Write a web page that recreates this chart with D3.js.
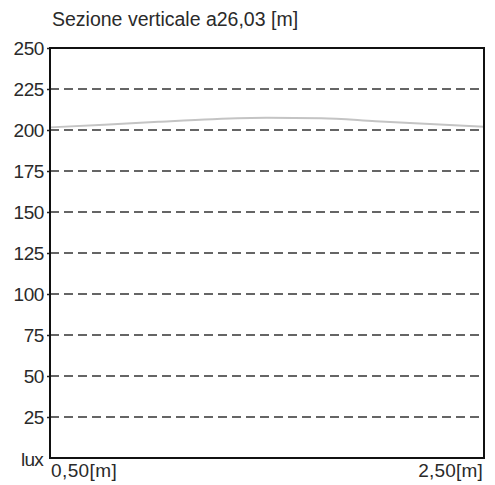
<!DOCTYPE html>
<html>
<head>
<meta charset="utf-8">
<script src="https://cdn.jsdelivr.net/npm/d3@7"></script>
<style>
  body { margin: 0; background: #fff; }
  text { font-family: "Liberation Sans", Arial, sans-serif; fill: #2a2a2a; }
</style>
</head>
<body>
<div id="chart"></div>
<script>
// sampled positions along the section (m) and illuminance (lux)
var positions = [0.5, 0.75, 1.0, 1.25, 1.5, 1.75, 2.0, 2.25, 2.5];
var luxValues = [201.6, 203.2, 205.0, 206.6, 207.4, 207.2, 205.4, 203.6, 202.0];
var yTicks = [25, 50, 75, 100, 125, 150, 175, 200, 225, 250];
var xLabels = ["0,50[m]", "2,50[m]"];
var title = "Sezione verticale a26,03 [m]";

var width = 495, height = 485;
var margin = {top: 48, right: 11, bottom: 27, left: 50};

var svg = d3.select("#chart").append("svg")
    .attr("width", width)
    .attr("height", height);

var x = d3.scaleLinear()
    .domain([0.5, 2.5])
    .range([margin.left, width - margin.right]);

var y = d3.scaleLinear()
    .domain([0, 250])
    .range([height - margin.bottom, margin.top]);

// dashed grid lines
svg.append("g")
  .selectAll("line")
  .data(yTicks.filter(function(d) { return d < 250; }))
  .join("line")
    .attr("x1", x(0.5))
    .attr("x2", x(2.5))
    .attr("y1", function(d) { return y(d); })
    .attr("y2", function(d) { return y(d); })
    .attr("stroke", "#333")
    .attr("stroke-width", 1.6)
    .attr("stroke-dasharray", "9,5");

// left axis with tick labels
var yAxis = d3.axisLeft(y)
    .tickValues(yTicks)
    .tickSize(3)
    .tickPadding(3);

var gy = svg.append("g")
    .attr("transform", "translate(" + margin.left + ",0)")
    .call(yAxis);
gy.select(".domain").remove();
gy.selectAll("line").attr("stroke", "#222").attr("stroke-width", 1.5);
gy.selectAll("text")
    .attr("font-size", 19)
    .attr("font-family", "Liberation Sans, Arial, sans-serif")
    .attr("letter-spacing", -0.4)
    .attr("fill", "#2a2a2a");

// the measured curve
var line = d3.line()
    .x(function(d, i) { return x(positions[i]); })
    .y(function(d) { return y(d); })
    .curve(d3.curveMonotoneX);

svg.append("path")
    .datum(luxValues)
    .attr("fill", "none")
    .attr("stroke", "#c4c4c4")
    .attr("stroke-width", 2)
    .attr("d", line);

// frame
svg.append("rect")
    .attr("x", x(0.5))
    .attr("y", y(250))
    .attr("width", x(2.5) - x(0.5))
    .attr("height", y(0) - y(250))
    .attr("fill", "none")
    .attr("stroke", "#111")
    .attr("stroke-width", 2);

// texts
svg.append("text")
    .attr("x", 52)
    .attr("y", 26)
    .attr("font-size", 19.5)
    .text(title);

svg.append("text")
    .attr("x", 43)
    .attr("y", 466)
    .attr("text-anchor", "end")
    .attr("font-size", 19)
    .attr("letter-spacing", -0.8)
    .text("lux");

svg.append("text")
    .attr("x", x(0.5) + 1)
    .attr("y", 477)
    .attr("font-size", 19)
    .attr("letter-spacing", 0.4)
    .text(xLabels[0]);

svg.append("text")
    .attr("x", x(2.5) - 1)
    .attr("y", 477)
    .attr("text-anchor", "end")
    .attr("font-size", 19)
    .attr("letter-spacing", 0.2)
    .text(xLabels[1]);
</script>
</body>
</html>
